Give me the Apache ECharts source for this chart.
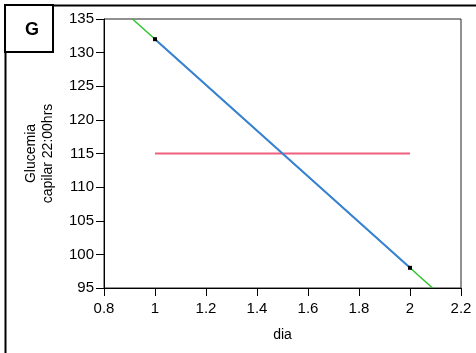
<!DOCTYPE html>
<html>
<head>
<meta charset="utf-8">
<script src="https://cdn.jsdelivr.net/npm/echarts@6/dist/echarts.min.js"></script>
<style>
html,body{margin:0;padding:0;background:#fff;}
#chart{width:476px;height:353px;}
</style>
</head>
<body>
<div id="chart"></div>
<script>
// Capillary glucose at 22:00 by day
const dias = [1, 2];
const glucemia = [132, 98];
const media = [115, 115];
const xTicks = [0.8, 1, 1.2, 1.4, 1.6, 1.8, 2, 2.2];
const yTicks = [95, 100, 105, 110, 115, 120, 125, 130, 135];

const xMin = xTicks[0], xMax = xTicks[xTicks.length - 1];
const yMin = yTicks[0], yMax = yTicks[yTicks.length - 1];

// least-squares line through the observations, clipped to the plot window
const n = dias.length;
const mx = dias.reduce((a, b) => a + b, 0) / n;
const my = glucemia.reduce((a, b) => a + b, 0) / n;
let sxy = 0, sxx = 0;
for (let i = 0; i < n; i++) { sxy += (dias[i] - mx) * (glucemia[i] - my); sxx += (dias[i] - mx) ** 2; }
const slope = sxy / sxx, icpt = my - slope * mx;
const xAtTop = (yMax - icpt) / slope, xAtBottom = (yMin - icpt) / slope;
const fitLine = [[xAtTop, yMax], [xAtBottom, yMin]];

const chart = echarts.init(document.getElementById('chart'));
const font = 'Liberation Sans, Arial, sans-serif';
chart.setOption({
  animation: false,
  grid: { left: 104, top: 19, width: 357, height: 269, show: true, borderColor: '#222', borderWidth: 1, backgroundColor: 'transparent' },
  xAxis: {
    type: 'value', min: xMin, max: xMax, interval: 0.2,
    name: 'dia', nameLocation: 'middle', nameGap: 40,
    nameTextStyle: { color: '#000', fontSize: 14, fontFamily: font },
    axisLine: { lineStyle: { color: '#000', width: 1 } },
    axisTick: { length: 8, lineStyle: { color: '#000' } },
    axisLabel: { color: '#000', fontSize: 15, fontFamily: font, margin: 13,
      formatter: v => String(Math.round(v * 10) / 10) },
    splitLine: { show: false }
  },
  yAxis: {
    type: 'value', min: yMin, max: yMax, interval: 5,
    name: 'Glucemia\ncapilar 22:00hrs', nameLocation: 'middle', nameGap: 47, nameRotate: 90,
    nameTextStyle: { color: '#000', fontSize: 14, fontFamily: font, lineHeight: 17, align: 'center' },
    axisLine: { lineStyle: { color: '#000', width: 1 } },
    axisTick: { length: 8, lineStyle: { color: '#000' } },
    axisLabel: { color: '#000', fontSize: 15, fontFamily: font, margin: 10 },
    splitLine: { show: false }
  },
  series: [
    { type: 'line', data: fitLine, symbol: 'none', lineStyle: { color: '#2ec52e', width: 1.5 }, z: 2 },
    { type: 'line', data: dias.map((d, i) => [d, glucemia[i]]), symbol: 'square', symbolSize: 4,
      itemStyle: { color: '#000' }, lineStyle: { color: '#3a80d8', width: 2 }, z: 3 },
    { type: 'line', data: dias.map((d, i) => [d, media[i]]), symbol: 'none',
      lineStyle: { color: '#f0607e', width: 2 }, z: 1 }
  ],
  graphic: [
    { type: 'polyline', shape: { points: [[5.5, 353], [5.5, 5.5], [476, 5.5]] }, style: { stroke: '#000', lineWidth: 2, fill: null } },
    { type: 'rect', shape: { x: 5, y: 5, width: 48, height: 47 }, style: { stroke: '#000', lineWidth: 2, fill: '#fff' } },
    { type: 'text', left: 25, top: 21, style: { text: 'G', font: 'bold 18px ' + font, fill: '#000' } }
  ]
});
</script>
</body>
</html>
